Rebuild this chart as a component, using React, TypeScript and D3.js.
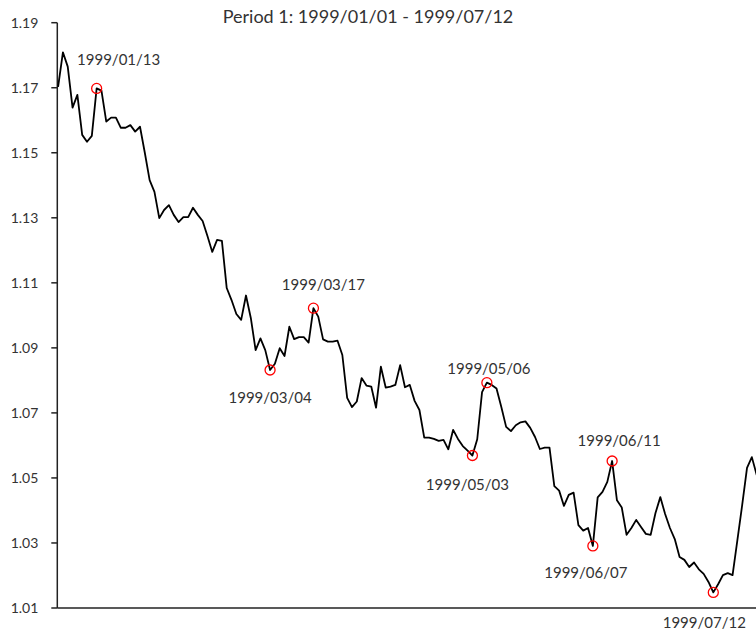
import React from "react";
import * as d3 from "d3";

const START_DATE = "1999-01-01";
const TITLE = "Period 1: 1999/01/01 - 1999/07/12";

// Daily (business-day) closing values, starting 1999/01/01
const values: number[] = [
  1.1703, 1.1809, 1.1765, 1.1639, 1.1678, 1.1555, 1.1534, 1.1552, 1.1698, 1.1691,
  1.1596, 1.1608, 1.1608, 1.1577, 1.1577, 1.1585, 1.1565, 1.158, 1.15, 1.1416,
  1.138, 1.1299, 1.1324, 1.1339, 1.1309, 1.1287, 1.1302, 1.1302, 1.1331, 1.1309,
  1.129, 1.1244, 1.1195, 1.1232, 1.1229, 1.1084, 1.1047, 1.1004, 1.0986, 1.1061,
  1.0992, 1.0893, 1.0929, 1.0893, 1.0832, 1.0851, 1.0899, 1.0875, 1.0965, 1.0927,
  1.0933, 1.0933, 1.0916, 1.1022, 1.0996, 1.0926, 1.0919, 1.0919, 1.0922, 1.0878,
  1.0746, 1.0718, 1.0735, 1.0807, 1.0784, 1.0781, 1.0716, 1.0842, 1.0778, 1.0781,
  1.0786, 1.0847, 1.0779, 1.0786, 1.0737, 1.0709, 1.0624, 1.0624, 1.062, 1.0614,
  1.0617, 1.0588, 1.0648, 1.062, 1.0598, 1.0584, 1.0569, 1.0619, 1.0764, 1.0793,
  1.0786, 1.0775, 1.0718, 1.0657, 1.0644, 1.0662, 1.0671, 1.0674, 1.0654, 1.0626,
  1.0589, 1.0593, 1.0593, 1.0475, 1.0461, 1.0414, 1.0448, 1.0455, 1.0355, 1.0338,
  1.0346, 1.0291, 1.044, 1.0457, 1.0488, 1.0552, 1.0431, 1.0409, 1.0325, 1.0346,
  1.0371, 1.0349, 1.0328, 1.0325, 1.0392, 1.0441, 1.0389, 1.0346, 1.0312, 1.0257,
  1.0248, 1.0226, 1.024, 1.0219, 1.0205, 1.018, 1.0148, 1.0173, 1.0201, 1.0207,
  1.0201, 1.0309, 1.0417, 1.0531, 1.0564, 1.051, 1.049,
];

const yTicks: number[] = [1.01, 1.03, 1.05, 1.07, 1.09, 1.11, 1.13, 1.15, 1.17, 1.19];

const markedDates: string[] = [
  "1999/01/13", "1999/03/04", "1999/03/17", "1999/05/03",
  "1999/05/06", "1999/06/07", "1999/06/11", "1999/07/12",
];

// label placement (dx, dy) relative to marker — layout only
const labelDx: number[] = [22, 0, 10, -5, 2, -7, 7, -9];
const labelDy: number[] = [-23, 33, -18, 35, -9, 32, -15, 36];

const W = 756;
const H = 634;
const FONT = "Lato, 'Open Sans', sans-serif";

export default function App() {
  const fmt = d3.timeFormat("%Y/%m/%d");
  const start = d3.timeParse("%Y-%m-%d")(START_DATE) as Date;
  const days = d3.timeDay
    .range(start, d3.timeDay.offset(start, 400))
    .filter((d) => d.getDay() !== 0 && d.getDay() !== 6)
    .slice(0, values.length);
  const data = values.map((v, i) => ({ i, date: fmt(days[i]), v }));

  const x = d3.scaleLinear().domain([0, 136]).range([58.1, 713.3]);
  const y = d3.scaleLinear().domain([1.01, 1.19]).range([608, 22.7]);
  const axisX = 57.3;

  const line = d3
    .line<{ i: number; v: number }>()
    .x((d) => x(d.i))
    .y((d) => y(d.v));

  const marks = markedDates.map((ds, k) => {
    const d = data.find((p) => p.date === ds)!;
    return { ...d, dx: labelDx[k], dy: labelDy[k] };
  });

  return (
    <div style={{ position: "absolute", left: 0, top: 0 }}>
      <svg width={W} height={H} style={{ display: "block", background: "#fff" }}>
        <text
          x={368}
          y={23}
          textAnchor="middle"
          fontFamily={FONT}
          fontSize={18}
          fill="#333"
        >
          {TITLE}
        </text>
        {/* y axis */}
        <line x1={axisX} x2={axisX} y1={y(1.19)} y2={y(1.01)} stroke="#222" strokeWidth={1.5} />
        {yTicks.map((t) => (
          <g key={t} transform={`translate(0,${y(t)})`}>
            <line x1={axisX - 6} x2={axisX} stroke="#222" strokeWidth={1.5} />
            <text
              x={axisX - 19}
              dy="0.36em"
              textAnchor="end"
              fontFamily={FONT}
              fontSize={14}
              fill="#333"
            >
              {d3.format(".2f")(t)}
            </text>
          </g>
        ))}
        {/* x axis */}
        <line x1={axisX} x2={x(values.length - 1) + 10} y1={y(1.01)} y2={y(1.01)} stroke="#222" strokeWidth={1.5} />
        <path d={line(data) || ""} fill="none" stroke="#000" strokeWidth={1.8} strokeLinejoin="round" />
        {marks.map((m) => (
          <g key={m.date}>
            <circle cx={x(m.i)} cy={y(m.v)} r={5} fill="none" stroke="#f00" strokeWidth={1.3} />
            <text
              x={x(m.i) + m.dx}
              y={y(m.v) + m.dy}
              textAnchor="middle"
              fontFamily={FONT}
              fontSize={15}
              fill="#333"
            >
              {m.date}
            </text>
          </g>
        ))}
      </svg>
    </div>
  );
}
